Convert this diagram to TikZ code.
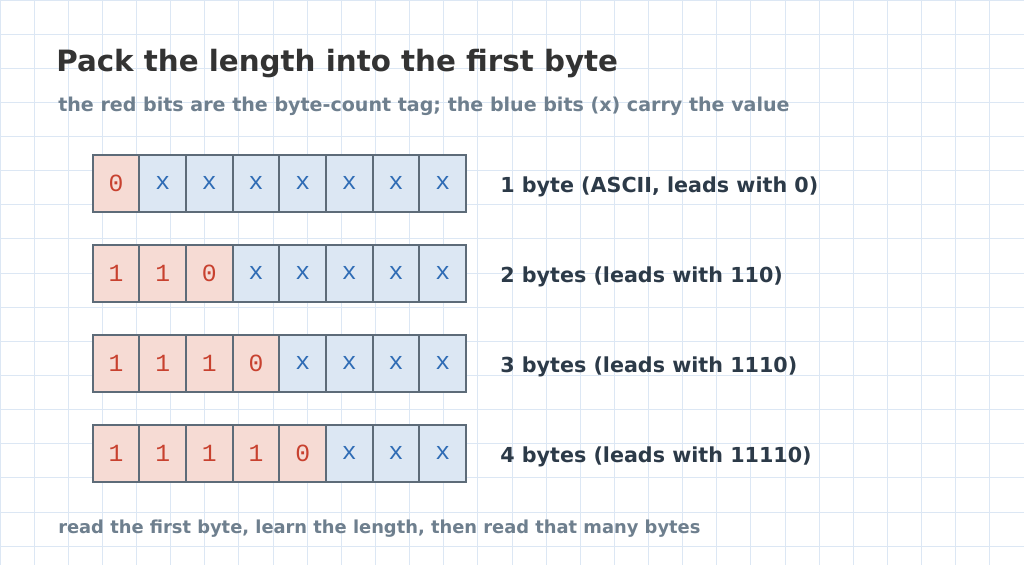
\documentclass[tikz,border=0pt]{standalone}
\usepackage{fontspec}
\setmainfont{DejaVu Sans}
\newfontfamily\bitfont{Liberation Mono}
\usetikzlibrary{positioning}

\definecolor{gridblue}{HTML}{DCE7F4}
\definecolor{celledge}{HTML}{5D6B78}
\definecolor{tagfill}{HTML}{F6DBD4}
\definecolor{tagred}{HTML}{C8412F}
\definecolor{valfill}{HTML}{DCE7F3}
\definecolor{valblue}{HTML}{2F6CB5}
\definecolor{inkdark}{HTML}{333333}
\definecolor{inklabel}{HTML}{2C3A48}
\definecolor{inkgrey}{HTML}{6E7F8E}

\tikzset{
  gridline/.style={draw=gridblue, line width=0.75pt},
  cell/.style={draw=celledge, line width=1.5pt, minimum width=35pt,
    minimum height=42.5pt, inner sep=0pt, font=\bitfont\fontsize{18.5}{18.5}\selectfont},
  tg/.style={cell, fill=tagfill, text=tagred},
  vl/.style={cell, fill=valfill, text=valblue},
  rowlabel/.style={inner sep=0pt, text=inklabel, font=\bfseries\fontsize{15.5}{15.5}\selectfont},
  note/.style={inner sep=0pt, anchor=base west, text=inkgrey, font=\bfseries\fontsize{14.3}{14.3}\selectfont}
}

\begin{document}
\begin{tikzpicture}[x=0.75pt,y=-0.75pt]
  \useasboundingbox (0,0) rectangle (1024,565);
  \fill[white] (0,0) rectangle (1024,565);
  % paper grid
  \foreach \i in {0,...,30} \draw[gridline] (\i*34.133,0) -- (\i*34.133,565);
  \foreach \j in {0,...,16} \draw[gridline] (0,\j*34.133) -- (1024,\j*34.133);

  \node[inner sep=0pt, anchor=base west, text=inkdark, font=\bfseries\fontsize{22}{22}\selectfont]
    (title) at (56,71.7) {Pack the length into the first byte};
  \node[note] (sub) at (58,111.7) {the red bits are the byte-count tag; the blue bits (x) carry the value};

  % one row per encoding length
  \foreach \r/\bits/\txt in {
      1/{tg/0,vl/x,vl/x,vl/x,vl/x,vl/x,vl/x,vl/x}/{1 byte (ASCII, leads with 0)},
      2/{tg/1,tg/1,tg/0,vl/x,vl/x,vl/x,vl/x,vl/x}/{2 bytes (leads with 110)},
      3/{tg/1,tg/1,tg/1,tg/0,vl/x,vl/x,vl/x,vl/x}/{3 bytes (leads with 1110)},
      4/{tg/1,tg/1,tg/1,tg/1,tg/0,vl/x,vl/x,vl/x}/{4 bytes (leads with 11110)}} {
    \foreach \s/\ch [count=\k] in \bits
      \node[\s] (c\r-\k) at (116.0+46.667*\k-46.667, 183.3+90*\r-90) {\ch};
    \node[rowlabel, right=24.75pt of c\r-8, yshift=-2.5pt] (l\r) {\txt};
  }

  \node[note, font=\bfseries\fontsize{13.4}{13.4}\selectfont] (foot) at (58,533.3)
    {read the first byte, learn the length, then read that many bytes};
\end{tikzpicture}
\end{document}
